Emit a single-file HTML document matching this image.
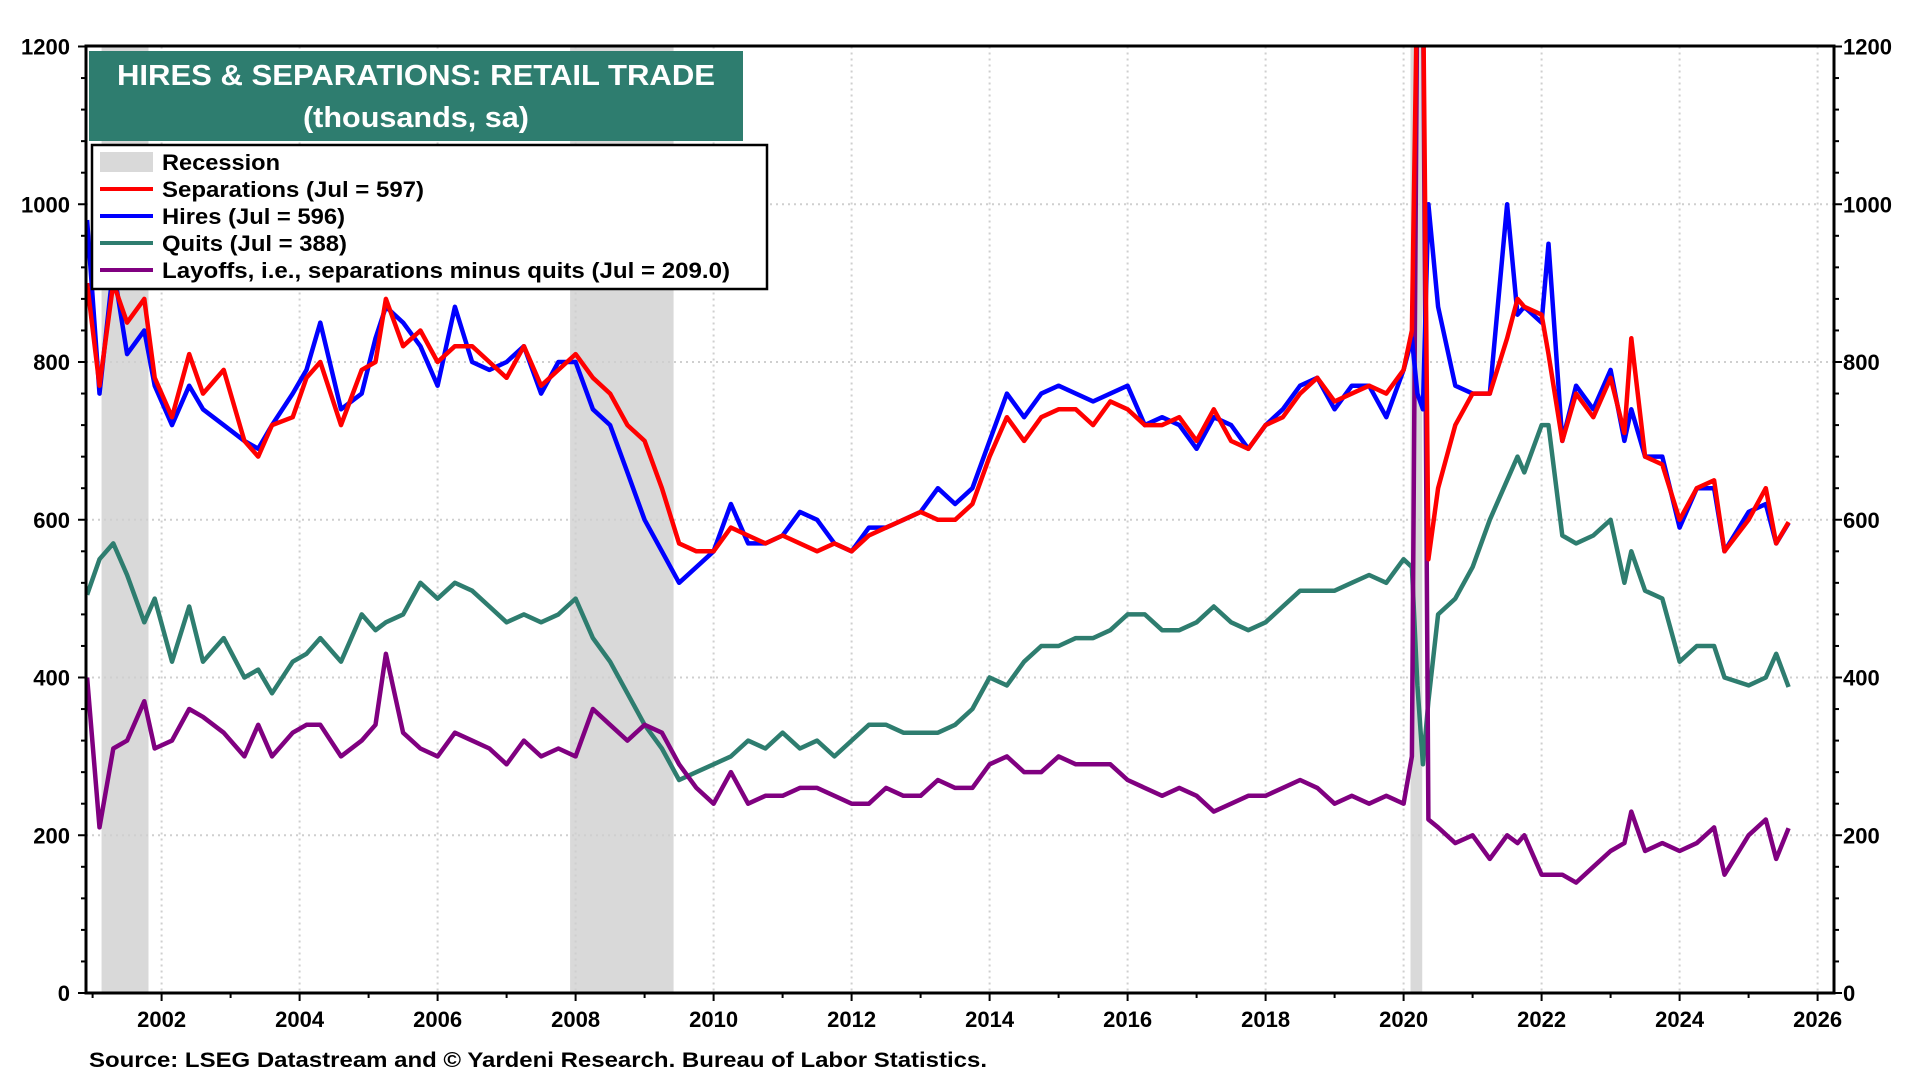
<!DOCTYPE html>
<html><head><meta charset="utf-8"><style>
html,body{margin:0;padding:0;background:#fff;}
svg{display:block;font-family:"Liberation Sans",Arial,sans-serif;font-weight:bold;}
</style></head><body>
<svg id="chart" width="1920" height="1080" viewBox="0 0 1920 1080" xmlns="http://www.w3.org/2000/svg">
<defs><clipPath id="plotclip"><rect x="86" y="46" width="1748" height="947"/></clipPath></defs>
<g id="recessions" clip-path="url(#plotclip)"></g>
<g id="grid"></g>
<g id="series" clip-path="url(#plotclip)"></g>
<rect x="86" y="46" width="1748" height="947" fill="none" stroke="#000" stroke-width="3"/>
<g id="axes"></g>
<g>
<rect x="89" y="51" width="654" height="90" fill="#2e7d6f"/>
<text x="416" y="85" fill="#fff" font-size="29" text-anchor="middle" textLength="598" lengthAdjust="spacingAndGlyphs">HIRES &amp; SEPARATIONS: RETAIL TRADE</text>
<text x="416" y="127" fill="#fff" font-size="29" text-anchor="middle" textLength="226" lengthAdjust="spacingAndGlyphs">(thousands, sa)</text>
</g>
<g>
<rect x="92" y="145" width="675" height="144" fill="#fff" stroke="#000" stroke-width="2.5"/>
<rect x="100" y="152" width="53" height="20" fill="#d9d9d9"/>
<text x="162" y="170" font-size="22" textLength="118" lengthAdjust="spacingAndGlyphs">Recession</text>
<line x1="100" y1="189" x2="153" y2="189" stroke="#ff0000" stroke-width="4"/>
<text x="162" y="197" font-size="22" textLength="262" lengthAdjust="spacingAndGlyphs">Separations (Jul = 597)</text>
<line x1="100" y1="216" x2="153" y2="216" stroke="#0000ff" stroke-width="4"/>
<text x="162" y="224" font-size="22" textLength="183" lengthAdjust="spacingAndGlyphs">Hires (Jul = 596)</text>
<line x1="100" y1="243" x2="153" y2="243" stroke="#2e7d6f" stroke-width="4"/>
<text x="162" y="251" font-size="22" textLength="185" lengthAdjust="spacingAndGlyphs">Quits (Jul = 388)</text>
<line x1="100" y1="270" x2="153" y2="270" stroke="#800080" stroke-width="4"/>
<text x="162" y="278" font-size="22" textLength="568" lengthAdjust="spacingAndGlyphs">Layoffs, i.e., separations minus quits (Jul = 209.0)</text>
</g>
<text x="89" y="1067" font-size="21" textLength="898" lengthAdjust="spacingAndGlyphs">Source: LSEG Datastream and © Yardeni Research. Bureau of Labor Statistics.</text>
</svg>
<script>
const dates = [2000.92,2001.1,2001.3,2001.5,2001.75,2001.9,2002.15,2002.4,2002.6,2002.9,2003.2,2003.4,2003.6,2003.9,2004.1,2004.3,2004.6,2004.9,2005.1,2005.25,2005.5,2005.75,2006.0,2006.25,2006.5,2006.75,2007.0,2007.25,2007.5,2007.75,2008.0,2008.25,2008.5,2008.75,2009.0,2009.25,2009.5,2009.75,2010.0,2010.25,2010.5,2010.75,2011.0,2011.25,2011.5,2011.75,2012.0,2012.25,2012.5,2012.75,2013.0,2013.25,2013.5,2013.75,2014.0,2014.25,2014.5,2014.75,2015.0,2015.25,2015.5,2015.75,2016.0,2016.25,2016.5,2016.75,2017.0,2017.25,2017.5,2017.75,2018.0,2018.25,2018.5,2018.75,2019.0,2019.25,2019.5,2019.75,2020.0,2020.12,2020.2,2020.28,2020.36,2020.5,2020.75,2021.0,2021.25,2021.5,2021.65,2021.75,2022.0,2022.1,2022.3,2022.5,2022.75,2023.0,2023.2,2023.3,2023.5,2023.75,2024.0,2024.25,2024.5,2024.65,2025.0,2025.25,2025.4,2025.58];
const separations = [900,770,900,850,880,780,730,810,760,790,700,680,720,730,780,800,720,790,800,880,820,840,800,820,820,800,780,820,770,790,810,780,760,720,700,640,570,560,560,590,580,570,580,570,560,570,560,580,590,600,610,600,600,620,680,730,700,730,740,740,720,750,740,720,720,730,700,740,700,690,720,730,760,780,750,760,770,760,790,840,1300,1300,550,640,720,760,760,830,880,870,860,810,700,760,730,780,710,830,680,670,600,640,650,560,600,640,570,597];
const hires = [980,760,920,810,840,770,720,770,740,720,700,690,720,760,790,850,740,760,830,870,850,820,770,870,800,790,800,820,760,800,800,740,720,660,600,560,520,540,560,620,570,570,580,610,600,570,560,590,590,600,610,640,620,640,700,760,730,760,770,760,750,760,770,720,730,720,690,730,720,690,720,740,770,780,740,770,770,730,790,830,760,740,1000,870,770,760,760,1000,860,870,850,950,700,770,740,790,700,740,680,680,590,640,640,560,610,620,570,596];
const quits = [505,550,570,530,470,500,420,490,420,450,400,410,380,420,430,450,420,480,460,470,480,520,500,520,510,490,470,480,470,480,500,450,420,380,340,310,270,280,290,300,320,310,330,310,320,300,320,340,340,330,330,330,340,360,400,390,420,440,440,450,450,460,480,480,460,460,470,490,470,460,470,490,510,510,510,520,530,520,550,540,390,290,370,480,500,540,600,650,680,660,720,720,580,570,580,600,520,560,510,500,420,440,440,400,390,400,430,388];
const layoffs = [400,210,310,320,370,310,320,360,350,330,300,340,300,330,340,340,300,320,340,430,330,310,300,330,320,310,290,320,300,310,300,360,340,320,340,330,290,260,240,280,240,250,250,260,260,250,240,240,260,250,250,270,260,260,290,300,280,280,300,290,290,290,270,260,250,260,250,230,240,250,250,260,270,260,240,250,240,250,240,300,1300,1300,220,210,190,200,170,200,190,200,150,150,150,140,160,180,190,230,180,190,180,190,210,150,200,220,170,209];
const yTicks = [0,200,400,600,800,1000,1200];
const xTickYears = [2002,2004,2006,2008,2010,2012,2014,2016,2018,2020,2022,2024,2026];
const recessionStarts = [2001.13,2007.92,2020.1];
const recessionEnds = [2001.81,2009.42,2020.27];

const svgNS = "http://www.w3.org/2000/svg";
const X0 = 86, X1 = 1834, Y0 = 993, Y1 = 46.5;
function xScale(t){ return 161.6 + (t - 2002) * 69; }
function yScale(v){ return Y0 - v / 1200 * (Y0 - Y1); }
function mk(tag, attrs, parent){ const e = document.createElementNS(svgNS, tag); for (const k in attrs) e.setAttribute(k, attrs[k]); parent.appendChild(e); return e; }

const gRec = document.getElementById('recessions');
for (let i = 0; i < recessionStarts.length; i++) {
  const r = mk('rect', {x: xScale(recessionStarts[i]), y: Y1, width: xScale(recessionEnds[i]) - xScale(recessionStarts[i]), height: Y0 - Y1, fill: '#d9d9d9'}, gRec);
  
  
}
const gGrid = document.getElementById('grid');
yTicks.forEach(v => { if (v > 0 && v < 1200) { const l = mk('line', {x1: X0, x2: X1, y1: yScale(v), y2: yScale(v), stroke: '#cfcfcf', 'stroke-width': 2, 'stroke-dasharray': '2 4'}, gGrid);
  
   } });
xTickYears.forEach(t => { const x = xScale(t); if (x < X1) { const l = mk('line', {x1: x, x2: x, y1: Y1, y2: Y0, stroke: '#cfcfcf', 'stroke-width': 2, 'stroke-dasharray': '2 4'}, gGrid);
  
   } });

const gS = document.getElementById('series');
function drawSeries(vals, color, name){
  const d = vals.map((v, i) => (i ? 'L' : 'M') + xScale(dates[i]).toFixed(1) + ' ' + yScale(v).toFixed(1)).join(' ');
  const p = mk('path', {d: d, fill: 'none', stroke: color, 'stroke-width': 4.5, 'stroke-linejoin': 'round'}, gS);
  
  
}
drawSeries(quits, '#2e7d6f', 'quits-line');
drawSeries(layoffs, '#800080', 'layoffs-line');
drawSeries(hires, '#0000ff', 'hires-line');
drawSeries(separations, '#ff0000', 'separations-line');

const gA = document.getElementById('axes');
for (let v = 0; v <= 1200; v += 40) {
  const major = v % 200 === 0; const len = major ? 8 : 5;
  mk('line', {x1: X0 - len, x2: X0, y1: yScale(v), y2: yScale(v), stroke: '#000', 'stroke-width': 2}, gA);
  mk('line', {x1: X1, x2: X1 + len, y1: yScale(v), y2: yScale(v), stroke: '#000', 'stroke-width': 2}, gA);
}
yTicks.forEach(v => {
  const a = mk('text', {x: 70, y: yScale(v) + 8, 'font-size': 22, 'text-anchor': 'end'}, gA); a.textContent = v;
  
  
  const b = mk('text', {x: 1843, y: yScale(v) + 8, 'font-size': 22, 'text-anchor': 'start'}, gA); b.textContent = v;
  
  
});
for (let t = 2001; t <= 2026; t++) {
  const x = xScale(t); if (x < X0 || x > X1) continue;
  mk('line', {x1: x, x2: x, y1: Y0, y2: Y0 + (t % 2 === 0 ? 8 : 5), stroke: '#000', 'stroke-width': 2}, gA);
}
xTickYears.forEach(t => {
  const l = mk('text', {x: xScale(t), y: 1027, 'font-size': 22, 'text-anchor': 'middle'}, gA); l.textContent = t;
  
  
});
</script>
</body></html>
